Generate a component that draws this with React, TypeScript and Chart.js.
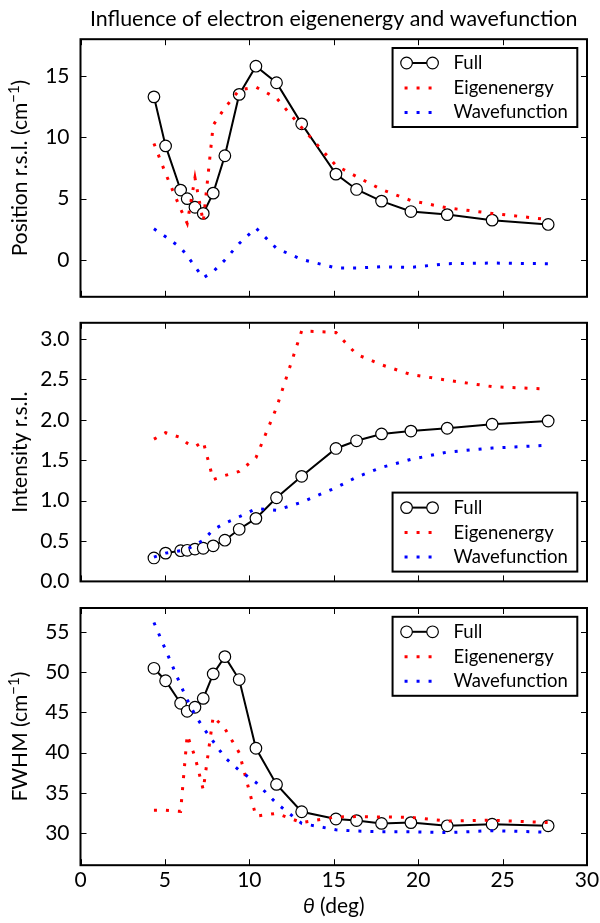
import React, { useEffect, useRef } from 'react';
import { Chart, registerables } from 'chart.js';

Chart.register(...registerables);

// ---------- data ----------
const theta = [4.35, 5.04, 5.93, 6.32, 6.78, 7.27, 7.86, 8.55, 9.4, 10.39, 11.61, 13.1, 15.13, 16.35, 17.83, 19.57, 21.72, 24.38, 27.7];

const posFull = [13.3, 9.3, 5.7, 5.0, 4.3, 3.8, 5.45, 8.5, 13.5, 15.8, 14.45, 11.1, 7.0, 5.75, 4.8, 3.95, 3.7, 3.25, 2.9];
const posEigen = [9.5, 7.05, 4.15, 3.0, 6.7, 3.1, 11.0, 12.4, 13.85, 14.1, 13.2, 10.8, 7.7, 6.8, 5.75, 4.85, 4.25, 3.8, 3.3];
const posWave = [2.55, 1.9, 1.0, 0.35, -0.55, -1.45, -0.95, 0.0, 1.35, 2.6, 0.95, 0.05, -0.65, -0.65, -0.55, -0.6, -0.3, -0.25, -0.3];

const intFull = [0.29, 0.35, 0.38, 0.385, 0.4, 0.41, 0.44, 0.51, 0.645, 0.78, 1.035, 1.3, 1.645, 1.74, 1.825, 1.86, 1.895, 1.945, 1.985];
const intEigen = [1.76, 1.84, 1.78, 1.71, 1.667, 1.73, 1.26, 1.31, 1.36, 1.53, 2.15, 3.1, 3.08, 2.81, 2.68, 2.56, 2.49, 2.41, 2.38];
const intWave = [0.3, 0.35, 0.38, 0.4, 0.45, 0.51, 0.64, 0.72, 0.8, 0.9, 0.88, 0.98, 1.16, 1.29, 1.41, 1.51, 1.6, 1.65, 1.685];

const fwhmFull = [50.5, 48.95, 46.15, 45.15, 45.65, 46.75, 49.8, 51.95, 49.1, 40.55, 36.05, 32.65, 31.75, 31.55, 31.2, 31.3, 30.9, 31.1, 30.9];
const fwhmEigen = [32.85, 32.85, 32.7, 42.2, 39.5, 35.4, 44.5, 43.0, 40.0, 32.1, 32.45, 31.3, 32.0, 32.05, 32.0, 31.95, 31.5, 31.6, 31.3];
const fwhmWave = [56.2, 52.8, 48.4, 46.6, 44.7, 43.1, 41.4, 39.4, 37.8, 36.3, 33.7, 31.2, 30.4, 30.25, 30.15, 30.15, 30.05, 30.3, 30.1];

const xTicks = [0, 5, 10, 15, 20, 25, 30];
const posTicks = [0, 5, 10, 15];
const intTicks = [0, 0.5, 1.0, 1.5, 2.0, 2.5, 3.0];
const fwhmTicks = [30, 35, 40, 45, 50, 55];

const legendLabels = ['Full', 'Eigenenergy', 'Wavefunction'];
const titleText = 'Influence of electron eigenenergy and wavefunction';

// ---------- style ----------
const FONT = 'Lato, "DejaVu Sans", sans-serif';
const FS_TICK = 21;
const FS_LABEL = 21;
const FS_TITLE = 21.4;
const FS_LEG = 18.5;
const AREA_LEFT = 80.5;
const AREA_RIGHT = 587;

type Part = { t: string; sup?: boolean };

type Panel = {
  top: number;
  height: number;
  areaTop: number;
  areaBottom: number;
  yMin: number;
  yMax: number;
  yTicks: number[];
  yFmt: (v: number) => string;
  full: number[];
  eig: number[];
  wav: number[];
  yTitle: Part[];
  legendPos: 'top' | 'bottom';
  showX: boolean;
  title?: string;
};

const panels: Panel[] = [
  {
    top: 0, height: 310, areaTop: 39.2, areaBottom: 296.8,
    yMin: -3, yMax: 18, yTicks: posTicks, yFmt: (v) => String(v),
    full: posFull, eig: posEigen, wav: posWave,
    yTitle: [{ t: 'Position r.s.l. (cm' }, { t: '\u22121', sup: true }, { t: ')' }],
    legendPos: 'top', showX: false, title: titleText,
  },
  {
    top: 310, height: 285, areaTop: 12.8, areaBottom: 271.4,
    yMin: 0, yMax: 3.2, yTicks: intTicks, yFmt: (v) => v.toFixed(1),
    full: intFull, eig: intEigen, wav: intWave,
    yTitle: [{ t: 'Intensity r.s.l.' }],
    legendPos: 'bottom', showX: false,
  },
  {
    top: 595, height: 328, areaTop: 13, areaBottom: 270.2,
    yMin: 26, yMax: 58, yTicks: fwhmTicks, yFmt: (v) => String(v),
    full: fwhmFull, eig: fwhmEigen, wav: fwhmWave,
    yTitle: [{ t: 'FWHM (cm' }, { t: '\u22121', sup: true }, { t: ')' }],
    legendPos: 'top', showX: true,
  },
];

function decorPlugin(p: Panel) {
  return {
    id: 'decor',
    afterDraw(chart: any) {
      const ctx: CanvasRenderingContext2D = chart.ctx;
      const a = chart.chartArea;
      const xs = chart.scales.x;
      const ys = chart.scales.y;
      ctx.save();
      // inward ticks on all four sides
      ctx.strokeStyle = '#000';
      ctx.lineWidth = 1;
      ctx.setLineDash([]);
      ctx.beginPath();
      const TL = 6;
      for (const v of xTicks) {
        const px = Math.round(xs.getPixelForValue(v)) + 0.5;
        ctx.moveTo(px, a.bottom);
        ctx.lineTo(px, a.bottom - TL);
        ctx.moveTo(px, a.top);
        ctx.lineTo(px, a.top + TL);
      }
      for (const v of p.yTicks) {
        const py = Math.round(ys.getPixelForValue(v)) + 0.5;
        ctx.moveTo(a.left, py);
        ctx.lineTo(a.left + TL, py);
        ctx.moveTo(a.right, py);
        ctx.lineTo(a.right - TL, py);
      }
      ctx.stroke();
      // frame
      ctx.lineWidth = 2;
      ctx.strokeRect(a.left, a.top, a.right - a.left, a.bottom - a.top);

      // legend
      ctx.font = `${FS_LEG}px ${FONT}`;
      const tw = Math.max(...legendLabels.map((l) => ctx.measureText(l).width));
      const boxW = 61 + tw + 9.5;
      const boxH = 79;
      const right = a.right - 9.7;
      const left = right - boxW;
      const top = p.legendPos === 'top' ? a.top + 8.8 : a.bottom - 9.8 - boxH;
      ctx.fillStyle = '#fff';
      ctx.fillRect(left, top, boxW, boxH);
      ctx.lineWidth = 2;
      ctx.strokeStyle = '#000';
      ctx.strokeRect(left, top, boxW, boxH);
      const rows = [top + 15, top + 40, top + 64.5];
      // Full
      ctx.beginPath();
      ctx.lineWidth = 2;
      ctx.moveTo(left + 14, rows[0]);
      ctx.lineTo(left + 40, rows[0]);
      ctx.stroke();
      for (const cx of [left + 14, left + 40]) {
        ctx.beginPath();
        ctx.arc(cx, rows[0], 5.8, 0, Math.PI * 2);
        ctx.fillStyle = '#fff';
        ctx.fill();
        ctx.lineWidth = 1.2;
        ctx.stroke();
      }
      // dotted
      const dotted = (y: number, color: string) => {
        ctx.beginPath();
        ctx.setLineDash([3, 9]);
        ctx.lineWidth = 3;
        ctx.strokeStyle = color;
        ctx.moveTo(left + 12, y);
        ctx.lineTo(left + 45, y);
        ctx.stroke();
        ctx.setLineDash([]);
      };
      dotted(rows[1], '#ff0000');
      dotted(rows[2], '#0000ff');
      ctx.fillStyle = '#000';
      ctx.textBaseline = 'middle';
      ctx.textAlign = 'left';
      ctx.font = `${FS_LEG}px ${FONT}`;
      legendLabels.forEach((l, i) => ctx.fillText(l, left + 61, rows[i]));

      // y title
      const cy = (a.top + a.bottom) / 2;
      ctx.save();
      ctx.translate(27, cy);
      ctx.rotate(-Math.PI / 2);
      ctx.textBaseline = 'alphabetic';
      const supFS = Math.round(FS_LABEL * 0.7);
      const widths = p.yTitle.map((pt) => {
        ctx.font = `${pt.sup ? supFS : FS_LABEL}px ${FONT}`;
        return ctx.measureText(pt.t).width;
      });
      let x = -widths.reduce((s, w) => s + w, 0) / 2;
      p.yTitle.forEach((pt, i) => {
        ctx.font = `${pt.sup ? supFS : FS_LABEL}px ${FONT}`;
        ctx.fillText(pt.t, x, pt.sup ? -8 : 0);
        x += widths[i];
      });
      ctx.restore();

      // title
      if (p.title) {
        ctx.font = `${FS_TITLE}px ${FONT}`;
        ctx.textAlign = 'center';
        ctx.textBaseline = 'alphabetic';
        ctx.fillText(p.title, (a.left + a.right) / 2, 26);
      }

      // x title
      if (p.showX) {
        const parts = [
          { t: '\u03b8', f: `italic ${FS_LABEL}px ${FONT}` },
          { t: ' (deg)', f: `${FS_LABEL}px ${FONT}` },
        ];
        const ws = parts.map((pt) => {
          ctx.font = pt.f;
          return ctx.measureText(pt.t).width;
        });
        let xx = (a.left + a.right) / 2 - ws.reduce((s, w) => s + w, 0) / 2;
        ctx.textAlign = 'left';
        ctx.textBaseline = 'alphabetic';
        parts.forEach((pt, i) => {
          ctx.font = pt.f;
          ctx.fillText(pt.t, xx, 913 - p.top);
          xx += ws[i];
        });
      }
      ctx.restore();
    },
  };
}

function PanelChart({ p }: { p: Panel }) {
  const ref = useRef<HTMLCanvasElement>(null);
  useEffect(() => {
    if (!ref.current) return;
    const pts = (arr: number[]) => theta.map((x, i) => ({ x, y: arr[i] }));
    const chart = new Chart(ref.current, {
      type: 'line',
      data: {
        datasets: [
          {
            label: legendLabels[0],
            data: pts(p.full),
            borderColor: '#000',
            borderWidth: 2,
            pointRadius: 5.8,
            pointBackgroundColor: '#fff',
            pointBorderColor: '#000',
            pointBorderWidth: 1.2,
            tension: 0,
            order: 3,
          },
          {
            label: legendLabels[1],
            data: pts(p.eig),
            borderColor: '#ff0000',
            borderWidth: 3,
            borderDash: [3, 9],
            borderCapStyle: 'butt',
            pointRadius: 0,
            tension: 0,
            order: 2,
          },
          {
            label: legendLabels[2],
            data: pts(p.wav),
            borderColor: '#0000ff',
            borderWidth: 3,
            borderDash: [3, 9],
            borderCapStyle: 'butt',
            pointRadius: 0,
            tension: 0,
            order: 1,
          },
        ],
      } as any,
      options: {
        animation: false,
        responsive: false,
        maintainAspectRatio: false,
        devicePixelRatio: 1,
        events: [],
        layout: { padding: { left: 0, right: 600 - AREA_RIGHT, top: p.areaTop, bottom: 0 } },
        plugins: { legend: { display: false }, title: { display: false }, tooltip: { enabled: false } },
        scales: {
          x: {
            type: 'linear',
            min: 0,
            max: 30,
            position: 'bottom',
            afterBuildTicks: (s: any) => {
              s.ticks = xTicks.map((v) => ({ value: v }));
            },
            afterFit: (s: any) => {
              s.height = p.height - p.areaBottom;
              s.paddingLeft = 0;
              s.paddingRight = 0;
              s.paddingTop = 0;
              s.paddingBottom = 0;
            },
            grid: { display: false, drawTicks: false },
            border: { display: false },
            ticks: {
              display: p.showX,
              color: '#000',
              font: { family: FONT, size: FS_TICK },
              padding: 2,
              maxRotation: 0,
              autoSkip: false,
            },
          },
          y: {
            type: 'linear',
            min: p.yMin,
            max: p.yMax,
            afterBuildTicks: (s: any) => {
              s.ticks = p.yTicks.map((v) => ({ value: v }));
            },
            afterFit: (s: any) => {
              s.width = AREA_LEFT;
              s.paddingLeft = 0;
              s.paddingRight = 0;
              s.paddingTop = 0;
              s.paddingBottom = 0;
            },
            grid: { display: false, drawTicks: false },
            border: { display: false },
            ticks: {
              color: '#000',
              font: { family: FONT, size: FS_TICK },
              padding: 11,
              autoSkip: false,
              callback: (v: any) => p.yFmt(Number(v)),
            },
          },
        },
      } as any,
      plugins: [decorPlugin(p)],
    });
    return () => chart.destroy();
  }, [p]);
  return (
    <canvas
      ref={ref}
      width={600}
      height={p.height}
      style={{ position: 'absolute', left: 0, top: p.top, width: 600, height: p.height, display: 'block' }}
    />
  );
}

export default function App() {
  return (
    <div style={{ position: 'absolute', left: 0, top: 0, width: 600, height: 923, background: '#fff' }}>
      {panels.map((p, i) => (
        <PanelChart key={i} p={p} />
      ))}
    </div>
  );
}
